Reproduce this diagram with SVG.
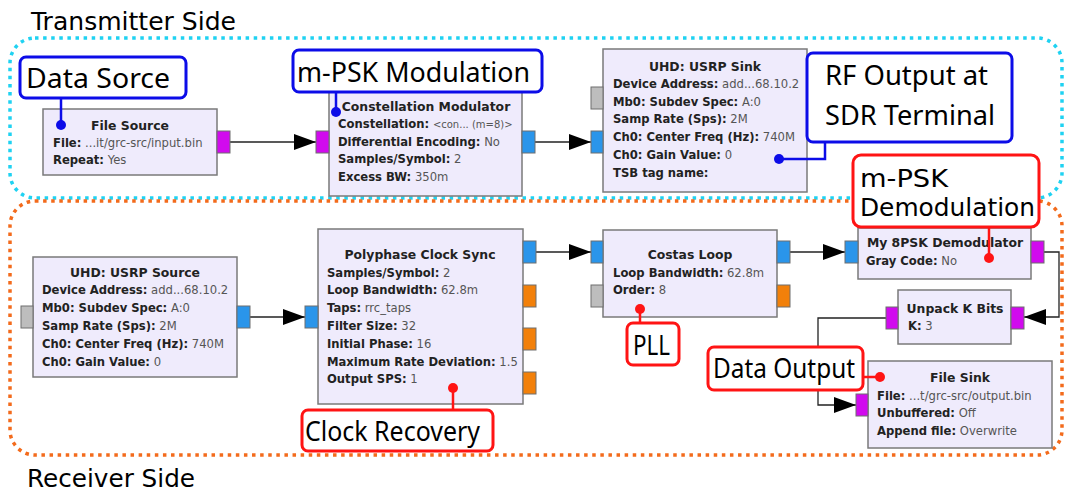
<svg xmlns="http://www.w3.org/2000/svg" width="1068" height="494" viewBox="0 0 1068 494">
<style>
.blk{fill:#efebfc;stroke:#7a7a7a;stroke-width:1.5}
.p{stroke:#6e6e6e;stroke-width:1}
.pm{fill:#d10aee}
.pb{fill:#2a95ea}
.pg{fill:#bdbdbd}
.po{fill:#f2800a}
.t{font-family:"DejaVu Sans",sans-serif;font-size:11.6px;fill:#555}
.k{font-weight:bold;fill:#222}
.ttl{font-family:"DejaVu Sans",sans-serif;font-weight:bold;font-size:12.4px;fill:#222;text-anchor:middle}
.sm{font-size:10px}
.lb{fill:#fff;stroke-width:3}
.bl{stroke:#0c0ce8}
.rd{stroke:#ff1414}
.lt{font-family:"Noto Sans","DejaVu Sans",sans-serif;font-size:27px;fill:#000}
.lt2{font-family:"DejaVu Sans",sans-serif;font-size:24px;fill:#000}
.side{font-family:"DejaVu Sans",sans-serif;font-size:25px;fill:#000}
.wire{stroke:#222;stroke-width:1.3;fill:none}
.ln{fill:none;stroke-width:2.5}
.dotb{fill:#0c0ce8}
.dotr{fill:#ff1414}
.reg{fill:none;stroke-width:3.5;stroke-dasharray:3.5 4.6}
</style>
<defs>
<marker id="ah" markerUnits="userSpaceOnUse" markerWidth="23" markerHeight="16" refX="22" refY="8" orient="auto">
<path d="M0,0 L22,8 L0,16 z" fill="#000"/>
</marker>
</defs>

<g id="regions">
<rect class="reg" x="10" y="38" width="1052" height="160" rx="25" stroke="#1fd2f2"/>
<rect class="reg" x="10" y="201" width="1052" height="254" rx="25" stroke="#f36b1c"/>
<text class="side" x="31" y="30" textLength="205" lengthAdjust="spacingAndGlyphs">Transmitter Side</text>
<text class="side" x="27" y="487" textLength="168" lengthAdjust="spacingAndGlyphs">Receiver Side</text>
</g>

<g id="connectors">
<path class="wire" d="M230,142 H316" marker-end="url(#ah)"/>
<path class="wire" d="M535,142 H591" marker-end="url(#ah)"/>
<path class="wire" d="M250,317 H305" marker-end="url(#ah)"/>
<path class="wire" d="M536,252 H591" marker-end="url(#ah)"/>
<path class="wire" d="M790,252 H845" marker-end="url(#ah)"/>
<path class="wire" d="M1044,252 H1059 V317 H1024" marker-end="url(#ah)"/>
<path class="wire" d="M886,318 H818 V405 H856" marker-end="url(#ah)"/>
</g>

<g id="file-source">
<rect class="blk" x="43" y="109" width="174" height="66"/>
<rect class="p pm" x="217" y="131" width="13" height="22"/>
<text class="ttl" x="130" y="130">File Source</text>
<text class="t" x="53" y="147"><tspan class="k">File:</tspan> ...it/grc-src/input.bin</text>
<text class="t" x="53" y="164"><tspan class="k">Repeat:</tspan> Yes</text>
</g>

<g id="constellation-modulator">
<rect class="blk" x="329" y="88" width="193" height="108"/>
<rect class="p pm" x="316" y="131" width="13" height="22"/>
<rect class="p pb" x="522" y="131" width="13" height="22"/>
<text class="ttl" x="426" y="111">Constellation Modulator</text>
<text class="t" x="338" y="128"><tspan class="k">Constellation:</tspan> <tspan class="sm">&lt;con... (m=8)&gt;</tspan></text>
<text class="t" x="338" y="146"><tspan class="k">Differential Encoding:</tspan> No</text>
<text class="t" x="338" y="163"><tspan class="k">Samples/Symbol:</tspan> 2</text>
<text class="t" x="338" y="181"><tspan class="k">Excess BW:</tspan> 350m</text>
</g>

<g id="usrp-sink">
<rect class="blk" x="603" y="49" width="204" height="143"/>
<rect class="p pg" x="591" y="87" width="12" height="22"/>
<rect class="p pb" x="591" y="131" width="12" height="22"/>
<text class="ttl" x="705" y="71">UHD: USRP Sink</text>
<text class="t" x="613" y="88"><tspan class="k">Device Address:</tspan> add...68.10.2</text>
<text class="t" x="613" y="106"><tspan class="k">Mb0: Subdev Spec:</tspan> A:0</text>
<text class="t" x="613" y="123"><tspan class="k">Samp Rate (Sps):</tspan> 2M</text>
<text class="t" x="613" y="141"><tspan class="k">Ch0: Center Freq (Hz):</tspan> 740M</text>
<text class="t" x="613" y="159"><tspan class="k">Ch0: Gain Value:</tspan> 0</text>
<text class="t" x="613" y="177"><tspan class="k">TSB tag name:</tspan></text>
</g>

<g id="usrp-source">
<rect class="blk" x="33" y="257" width="204" height="120"/>
<rect class="p pg" x="21" y="306" width="12" height="22"/>
<rect class="p pb" x="237" y="306" width="13" height="22"/>
<text class="ttl" x="135" y="277">UHD: USRP Source</text>
<text class="t" x="42" y="294"><tspan class="k">Device Address:</tspan> add...68.10.2</text>
<text class="t" x="42" y="312"><tspan class="k">Mb0: Subdev Spec:</tspan> A:0</text>
<text class="t" x="42" y="330"><tspan class="k">Samp Rate (Sps):</tspan> 2M</text>
<text class="t" x="42" y="348"><tspan class="k">Ch0: Center Freq (Hz):</tspan> 740M</text>
<text class="t" x="42" y="366"><tspan class="k">Ch0: Gain Value:</tspan> 0</text>
</g>

<g id="polyphase-clock-sync">
<rect class="blk" x="318" y="229" width="205" height="175"/>
<rect class="p pb" x="305" y="306" width="13" height="22"/>
<rect class="p pb" x="523" y="241" width="13" height="22"/>
<rect class="p po" x="523" y="285" width="13" height="22"/>
<rect class="p po" x="523" y="328" width="13" height="22"/>
<rect class="p po" x="523" y="372" width="13" height="22"/>
<text class="ttl" x="420" y="259">Polyphase Clock Sync</text>
<text class="t" x="327" y="277"><tspan class="k">Samples/Symbol:</tspan> 2</text>
<text class="t" x="327" y="294"><tspan class="k">Loop Bandwidth:</tspan> 62.8m</text>
<text class="t" x="327" y="312"><tspan class="k">Taps:</tspan> rrc_taps</text>
<text class="t" x="327" y="330"><tspan class="k">Filter Size:</tspan> 32</text>
<text class="t" x="327" y="348"><tspan class="k">Initial Phase:</tspan> 16</text>
<text class="t" x="327" y="366"><tspan class="k">Maximum Rate Deviation:</tspan> 1.5</text>
<text class="t" x="327" y="383"><tspan class="k">Output SPS:</tspan> 1</text>
</g>

<g id="costas-loop">
<rect class="blk" x="603" y="230" width="174" height="87"/>
<rect class="p pb" x="591" y="241" width="12" height="22"/>
<rect class="p pg" x="591" y="285" width="12" height="22"/>
<rect class="p pb" x="777" y="241" width="13" height="22"/>
<rect class="p po" x="777" y="285" width="13" height="22"/>
<text class="ttl" x="690" y="259">Costas Loop</text>
<text class="t" x="613" y="277"><tspan class="k">Loop Bandwidth:</tspan> 62.8m</text>
<text class="t" x="613" y="294"><tspan class="k">Order:</tspan> 8</text>
</g>

<g id="psk-demodulator">
<rect class="blk" x="858" y="228" width="173" height="51"/>
<rect class="p pb" x="845" y="241" width="13" height="22"/>
<rect class="p pm" x="1031" y="241" width="13" height="22"/>
<text class="ttl" x="945" y="247">My 8PSK Demodulator</text>
<text class="t" x="866" y="265"><tspan class="k">Gray Code:</tspan> No</text>
</g>

<g id="unpack-k-bits">
<rect class="blk" x="898" y="290" width="113" height="54"/>
<rect class="p pm" x="886" y="307" width="12" height="22"/>
<rect class="p pm" x="1011" y="307" width="13" height="22"/>
<text class="ttl" x="955" y="313">Unpack K Bits</text>
<text class="t" x="908" y="330"><tspan class="k">K:</tspan> 3</text>
</g>

<g id="file-sink">
<rect class="blk" x="868" y="361" width="184" height="87"/>
<rect class="p pm" x="856" y="394" width="12" height="22"/>
<text class="ttl" x="960" y="382">File Sink</text>
<text class="t" x="877" y="400"><tspan class="k">File:</tspan> ...t/grc-src/output.bin</text>
<text class="t" x="877" y="417"><tspan class="k">Unbuffered:</tspan> Off</text>
<text class="t" x="877" y="435"><tspan class="k">Append file:</tspan> Overwrite</text>
</g>

<g id="label-data-source">
<path class="ln bl" d="M61,98 V125"/>
<circle class="dotb" cx="61" cy="125" r="5"/>
<rect class="lb bl" x="20" y="57" width="166" height="41" rx="6"/>
<text class="lt" x="26" y="88" textLength="144" lengthAdjust="spacingAndGlyphs">Data Sorce</text>
</g>

<g id="label-mpsk-modulation">
<path class="ln bl" d="M336,92 V112"/>
<circle class="dotb" cx="336" cy="112" r="5"/>
<rect class="lb bl" x="293" y="50" width="249" height="42" rx="6"/>
<text class="lt" x="297" y="82" textLength="233" lengthAdjust="spacingAndGlyphs">m-PSK Modulation</text>
</g>

<g id="label-rf-output">
<path class="ln bl" d="M825,142 V159 H779"/>
<circle class="dotb" cx="779" cy="159" r="5"/>
<rect class="lb bl" x="807" y="53" width="205" height="89" rx="6"/>
<text class="lt" x="825" y="85" textLength="163" lengthAdjust="spacingAndGlyphs">RF Output at</text>
<text class="lt" x="825" y="125" textLength="170" lengthAdjust="spacingAndGlyphs">SDR Terminal</text>
</g>

<g id="label-mpsk-demodulation">
<path class="ln rd" d="M989,227 V258"/>
<circle class="dotr" cx="989" cy="258" r="5"/>
<rect class="lb rd" x="853" y="155" width="186" height="72" rx="8"/>
<text class="lt2" x="860" y="187" textLength="88" lengthAdjust="spacingAndGlyphs">m-PSK</text>
<text class="lt2" x="860" y="216" textLength="175" lengthAdjust="spacingAndGlyphs">Demodulation</text>
</g>

<g id="label-clock-recovery">
<path class="ln rd" d="M453,410 V388"/>
<circle class="dotr" cx="453" cy="388" r="5"/>
<rect class="lb rd" x="302" y="410" width="191" height="41" rx="6"/>
<text class="lt" x="305" y="441" textLength="175" lengthAdjust="spacingAndGlyphs">Clock Recovery</text>
</g>

<g id="label-pll">
<path class="ln rd" d="M640,323 V309"/>
<circle class="dotr" cx="640" cy="309" r="5"/>
<rect class="lb rd" x="627" y="323" width="52" height="42" rx="6"/>
<text class="lt" x="633" y="355" textLength="37" lengthAdjust="spacingAndGlyphs">PLL</text>
</g>

<g id="label-data-output">
<path class="ln rd" d="M863,377 H880"/>
<circle class="dotr" cx="880" cy="377" r="5"/>
<rect class="lb rd" x="708" y="347" width="155" height="43" rx="6"/>
<text class="lt" x="713" y="378" textLength="142" lengthAdjust="spacingAndGlyphs">Data Output</text>
</g>
</svg>
